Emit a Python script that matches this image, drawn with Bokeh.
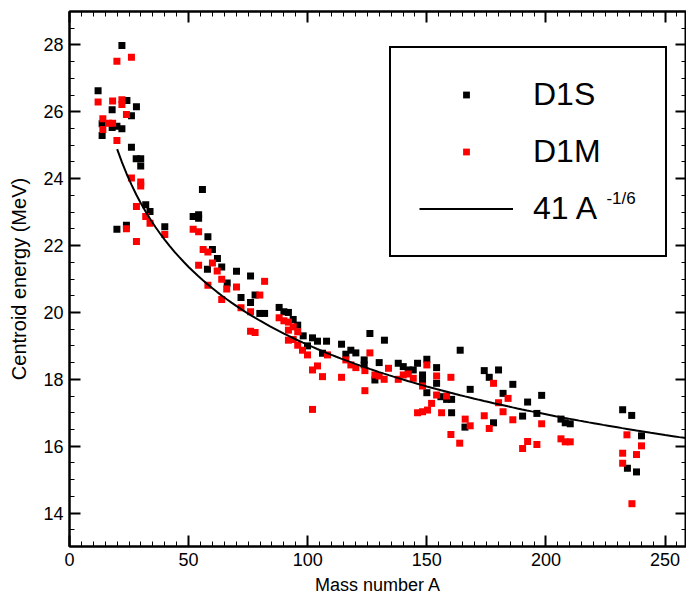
from bokeh.plotting import figure
from bokeh.models import (LinearAxis, Legend, LegendItem, Label, Range1d,
                          SingleIntervalTicker, CustomJSTickFormatter)
from bokeh.embed import file_html
from bokeh.resources import INLINE

# ---- data ----
d1s_A = [12.0, 13.7, 13.7, 17.9, 17.9, 19.9, 19.9, 22.0, 22.0, 23.9, 24.1, 26.0, 26.0,
         28.0, 28.1, 29.9, 29.9, 32.0, 33.8, 40.0, 51.9, 54.2, 54.2, 55.8, 58.1, 57.9,
         60.0, 62.1, 63.9, 66.2, 70.1, 72.0, 76.0, 76.0, 77.9, 79.9, 81.9, 88.0, 90.0,
         91.9, 93.9, 95.8, 98.1, 99.9, 102.0, 104.1, 106.2, 107.9, 114.2, 116.0, 118.1,
         120.2, 123.7, 123.7, 126.1, 128.2, 130.0, 132.2, 138.0, 140.1, 142.2, 144.3,
         146.1, 148.2, 148.2, 150.0, 150.0, 154.1, 154.1, 155.9, 158.3, 160.4, 160.4,
         164.0, 166.0, 168.2, 174.1, 176.2, 178.0, 180.1, 182.0, 186.1, 190.2, 192.3,
         196.2, 198.2, 206.3, 208.1, 210.2, 232.2, 234.2, 236.0, 238.0, 240.1]
d1s_E = [26.63, 25.64, 25.29, 26.06, 25.53, 25.57, 22.49, 27.98, 25.49, 22.61, 26.34, 25.88, 24.94,
         24.60, 26.15, 24.60, 24.38, 23.22, 23.02, 22.56, 22.87, 22.92, 22.82, 23.68, 22.26, 21.29,
         21.88, 21.61, 21.36, 20.88, 21.23, 20.45, 21.09, 20.30, 20.52, 19.97, 19.97, 20.15, 20.02,
         20.00, 19.79, 19.62, 19.30, 19.00, 19.24, 19.14, 18.78, 19.14, 19.05, 18.75, 18.87,
         18.79, 18.58, 18.43, 19.37, 17.98, 18.50, 19.17, 18.48, 18.38, 18.28, 18.28,
         18.48, 18.13, 17.98, 18.60, 17.60, 18.35, 17.88, 17.48, 17.40, 17.40, 17.00,
         18.87, 16.57, 17.70, 18.26, 18.06, 16.70, 18.28, 17.58, 17.85, 16.90, 17.32,
         16.98, 17.52, 16.81, 16.70, 16.67, 17.09, 15.34, 16.92, 15.23, 16.31]

d1m_A = [12.0, 14.0, 14.0, 16.4, 18.1, 18.1, 19.9, 19.9, 22.0, 22.0, 23.9, 23.9, 26.0, 26.0,
         28.1, 28.1, 29.9, 29.9, 32.0, 33.8, 40.0, 51.9, 54.2, 54.2, 56.1, 58.1, 58.1, 60.0,
         62.0, 63.9, 63.9, 66.0, 70.1, 72.0, 76.0, 76.0, 77.9, 79.9, 81.9, 88.0, 90.0, 91.9,
         91.9, 91.9, 93.9, 93.9, 95.8, 95.8, 97.8, 99.9, 102.0, 102.0, 104.1, 106.2, 108.3,
         114.2, 116.0, 118.1, 120.2, 124.0, 124.0, 126.1, 128.2, 130.0, 132.1, 133.9, 138.0,
         140.1, 142.2, 144.3, 146.1, 148.2, 148.2, 150.0, 150.3, 152.0, 154.1, 154.1, 156.2,
         158.3, 160.1, 160.1, 163.8, 166.1, 168.2, 174.1, 176.2, 178.0, 180.1, 182.0, 184.1,
         186.1, 190.2, 192.3, 196.2, 198.2, 206.3, 208.1, 210.2, 232.2, 232.2, 234.0, 236.1,
         238.0, 240.1]
d1m_E = [26.29, 25.79, 25.47, 25.66, 26.32, 25.66, 27.51, 25.14, 26.36, 26.22, 25.92, 22.50, 27.63, 24.02,
         23.17, 22.12, 23.90, 23.78, 22.87, 22.67, 22.33, 22.49, 22.41, 21.41, 21.88, 21.81, 20.81, 21.48,
         21.24, 20.99, 20.39, 20.70, 20.76, 20.14, 20.02, 19.44, 19.40, 20.52, 20.93, 19.84, 19.75, 19.71,
         19.47, 19.17, 19.57, 19.19, 19.42, 19.02, 18.87, 18.73, 18.28, 17.10, 18.40, 18.08, 18.73,
         18.06, 18.58, 18.43, 18.35, 18.26, 17.66, 18.79, 18.13, 18.10, 18.00, 18.33, 18.00,
         18.13, 18.16, 18.03, 17.00, 17.80, 17.03, 18.43, 17.08, 17.28, 18.10, 17.53, 17.00,
         17.50, 18.06, 16.35, 16.09, 16.81, 16.61, 16.91, 16.53, 17.88, 17.30, 17.03, 17.43,
         16.79, 15.93, 16.14, 16.05, 16.67, 16.22, 16.13, 16.13, 15.79, 15.49, 16.34, 14.28,
         15.75, 16.01]

# fitted curve 41 A^(-1/6)
fit_coef = 41.0
fit_power = -1.0 / 6.0
fit_A = list(range(20, 262, 2))
fit_E = [fit_coef * a ** fit_power for a in fit_A]

series_labels = ["D1S", "D1M", "41 A"]
fit_superscript = "-1/6"
x_label = "Mass number A"
y_label = "Centroid energy (MeV)"

FONT = "Liberation Sans"

p = figure(width=686, height=597, output_backend="svg", toolbar_location=None,
           x_range=Range1d(0, 259), y_range=Range1d(13, 29),
           min_border_left=69, min_border_right=0, min_border_top=11, min_border_bottom=50,
           x_axis_label=x_label, y_axis_label=y_label)
p.grid.visible = False
p.outline_line_color = "black"
p.outline_line_width = 2
p.background_fill_color = "white"
p.border_fill_color = "white"

xt = SingleIntervalTicker(interval=50, num_minor_ticks=10)
yt = SingleIntervalTicker(interval=2, num_minor_ticks=4)
bottom_axis = p.below[0]
left_axis = p.left[0]
bottom_axis.ticker = xt
left_axis.ticker = yt

blank = CustomJSTickFormatter(code="return ''")
top_axis = LinearAxis(ticker=xt, formatter=blank, major_label_text_font_size="0px",
                      major_label_standoff=0)
right_axis = LinearAxis(ticker=yt, formatter=blank, major_label_text_font_size="0px",
                        major_label_standoff=0)
p.add_layout(top_axis, "above")
p.add_layout(right_axis, "right")

for ax in (bottom_axis, left_axis, top_axis, right_axis):
    ax.axis_line_width = 2
    ax.axis_line_color = "black"
    ax.major_tick_in = 11
    ax.major_tick_out = 0
    ax.minor_tick_in = 5
    ax.minor_tick_out = 0
    ax.major_tick_line_width = 2
    ax.minor_tick_line_width = 1
    ax.major_tick_line_color = "black"
    ax.minor_tick_line_color = "black"
    ax.major_label_text_font = FONT
    ax.axis_label_text_font = FONT
    ax.axis_label_text_font_style = "normal"
    ax.axis_label_text_color = "black"
    ax.major_label_text_color = "black"

for ax in (bottom_axis, left_axis):
    ax.major_label_text_font_size = "18px"
    ax.major_label_standoff = 6
bottom_axis.axis_label_text_font_size = "18px"
left_axis.axis_label_text_font_size = "20px"
bottom_axis.axis_label_standoff = 6
left_axis.axis_label_standoff = 10

r1 = p.scatter(d1s_A, d1s_E, marker="square", size=7, color="black", line_width=0)
r2 = p.scatter(d1m_A, d1m_E, marker="square", size=7, color="red", line_width=0)
r3 = p.line(fit_A, fit_E, line_width=2, color="black")

# superscript of the fit label, placed just after "41 A" in the legend
sup = Label(x=225.4, y=23.41, text=fit_superscript,
            text_font=FONT, text_font_size="17px", text_baseline="middle",
            text_align="left", text_color="black")
p.add_layout(sup)

legend = Legend(items=[LegendItem(label=series_labels[0], renderers=[r1]),
                       LegendItem(label=series_labels[1], renderers=[r2]),
                       LegendItem(label=series_labels[2], renderers=[r3])],
                location=(320, 289), margin=0, padding=28, spacing=20,
                glyph_width=94, glyph_height=17, label_standoff=20, label_width=104,
                label_height=17,
                label_text_font=FONT, label_text_font_size="32px", label_text_color="black",
                border_line_color="black", border_line_width=2, border_line_alpha=1,
                background_fill_alpha=0)
p.add_layout(legend)

open("out.html", "w").write(file_html(p, INLINE))
